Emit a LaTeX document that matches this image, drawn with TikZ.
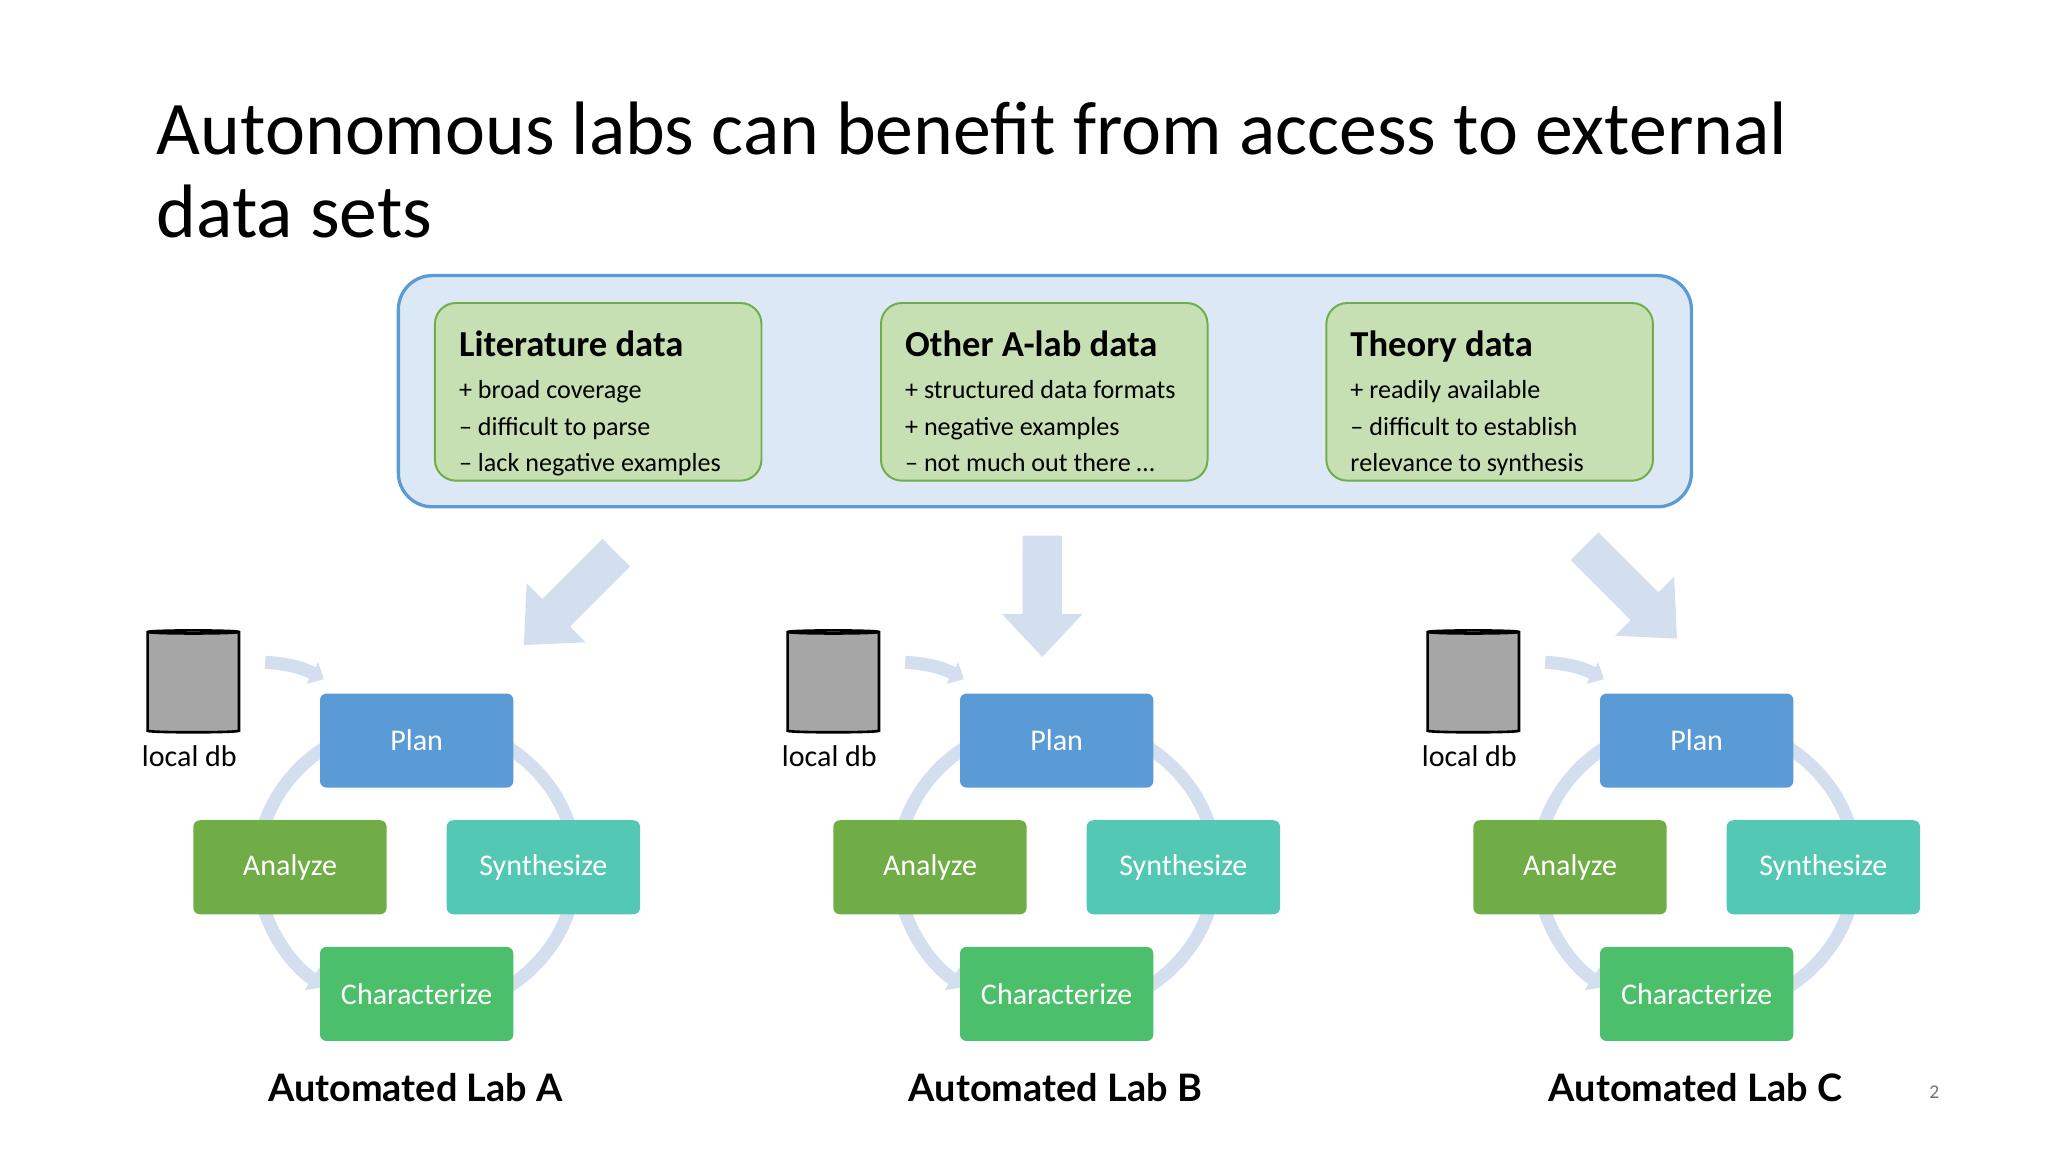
\documentclass[tikz,border=0pt]{standalone}
\usepackage{fontspec}
\setmainfont{Carlito}
\newfontfamily\latof{Lato}
\usetikzlibrary{shapes.geometric,arrows.meta}
\definecolor{plancol}{HTML}{5B9BD5}
\definecolor{anacol}{HTML}{70AD47}
\definecolor{syncol}{HTML}{53C8B4}
\definecolor{chacol}{HTML}{4CBF6A}
\definecolor{ringcol}{HTML}{D3DEEE}
\definecolor{panelfill}{HTML}{DCE8F5}
\definecolor{datafill}{HTML}{C6E0B4}
\tikzset{
  labstep/.style={rectangle, rounded corners=5pt, minimum width=148pt, minimum height=72pt,
    text=white, font=\fontsize{23}{26}\selectfont, inner sep=0pt},
  data/.style={rectangle, rounded corners=16pt, draw=anacol, line width=1.5pt, fill=datafill,
    minimum width=250pt, minimum height=136pt, inner sep=0pt},
  ring/.style={draw=ringcol, line width=10pt},
}
\begin{document}
\begin{tikzpicture}[x=1pt,y=-1pt]
\useasboundingbox (0,0) rectangle (1568,882);
% title
\node[anchor=base west, inner sep=0pt, font=\fontsize{58}{64}\selectfont] (t1) at (120,118)
  {Autonomous labs can benefit from access to external};
\node[anchor=base west, inner sep=0pt, font=\fontsize{58}{64}\selectfont] (t2) at (120,182) {data sets};
% external data panel
\node[rectangle, rounded corners=26pt, draw=plancol, line width=2.5pt, fill=panelfill,
  minimum width=990pt, minimum height=177pt] (panel) at (800,299.5) {};
\node[data] (lit) at (458,300) {};
\node[data] (oth) at (799.5,300) {};
\node[data] (the) at (1140.5,300) {};
\foreach \b/\h/\la/\lb/\lc in {lit/Literature data/+ broad coverage/– difficult to parse/– lack negative examples,
  oth/Other A-lab data/+ structured data formats/+ negative examples/– not much out there \ldots,
  the/Theory data/+ readily available/– difficult to establish/relevance to synthesis}{
  \node[anchor=base west, inner sep=0pt, font=\fontsize{28}{30}\selectfont\bfseries] (\b h) at ([xshift=19pt,yshift=-42pt]\b.north west) {\h};
  \node[anchor=base west, inner sep=0pt, font=\fontsize{20}{22}\selectfont] (\b a) at ([xshift=19pt,yshift=-74pt]\b.north west) {\la};
  \node[anchor=base west, inner sep=0pt, font=\fontsize{20}{22}\selectfont] (\b b) at ([xshift=19pt,yshift=-102pt]\b.north west) {\lb};
  \node[anchor=base west, inner sep=0pt, font=\fontsize{20}{22}\selectfont] (\b c) at ([xshift=19pt,yshift=-130pt]\b.north west) {\lc};
}
% big arrows
\fill[ringcol] (783,410) -- (813,410) -- (813,470) -- (829,470) -- (798,503) -- (767,470) -- (783,470) -- cycle;
\begin{scope}[shift={(440,455)}, rotate=-135]
  \fill[ringcol] (-45,-15) -- (20,-15) -- (20,-32) -- (55,0) -- (20,32) -- (20,15) -- (-45,15) -- cycle;
\end{scope}
\begin{scope}[shift={(1245,450)}, rotate=-45]
  \fill[ringcol] (-45,-15) -- (20,-15) -- (20,-32) -- (55,0) -- (20,32) -- (20,15) -- (-45,15) -- cycle;
\end{scope}
% labs
\foreach \i/\dx in {A/0,B/490,C/980}{
  \begin{scope}[xshift=\dx]
    % ring
    \draw[ring] (319,664) ++(60:122 and 112) arc[start angle=60, end angle=15, x radius=122, y radius=112];
    \draw[ring] (319,664) ++(-15:122 and 112) arc[start angle=-15, end angle=-60, x radius=122, y radius=112];
    \draw[ring] (319,664) ++(-120:122 and 112) arc[start angle=-120, end angle=-165, x radius=122, y radius=112];
    \draw[ring, -{Triangle[length=12pt,width=20pt]}] (319,664) ++(165:122 and 112) arc[start angle=165, end angle=125, x radius=122, y radius=112];
    \node[labstep, fill=plancol] (plan\i) at (319,567) {Plan};
    \node[labstep, fill=anacol] (ana\i) at (222,664) {Analyze};
    \node[labstep, fill=syncol] (syn\i) at (416,664) {Synthesize};
    \node[labstep, fill=chacol] (cha\i) at (319,761) {Characterize};
    % local db
    \node[cylinder, shape border rotate=90, aspect=0.35, draw, line width=2pt, fill=black!35,
      minimum width=70pt, minimum height=78pt] (db\i) at (148,523) {};
    \node[font=\fontsize{23}{26}\selectfont, inner sep=0pt] (dbl\i) at (145,579) {local db};
    \coordinate (dbe\i) at (203,507);
    \coordinate (pe\i) at (248,520);
    \draw[draw=ringcol, line width=10pt, -{Triangle[length=10pt,width=18pt]}] (dbe\i) to[bend left=12] (pe\i);
    \node[font=\fontsize{29}{32}\selectfont\latof\bfseries, inner sep=0pt] (lab\i) at (318,833) {Automated Lab \i};
  \end{scope}
}
\node[font=\fontsize{15}{16}\selectfont, text=black!55, inner sep=0pt] (pg) at (1481,836) {2};
\end{tikzpicture}
\end{document}
